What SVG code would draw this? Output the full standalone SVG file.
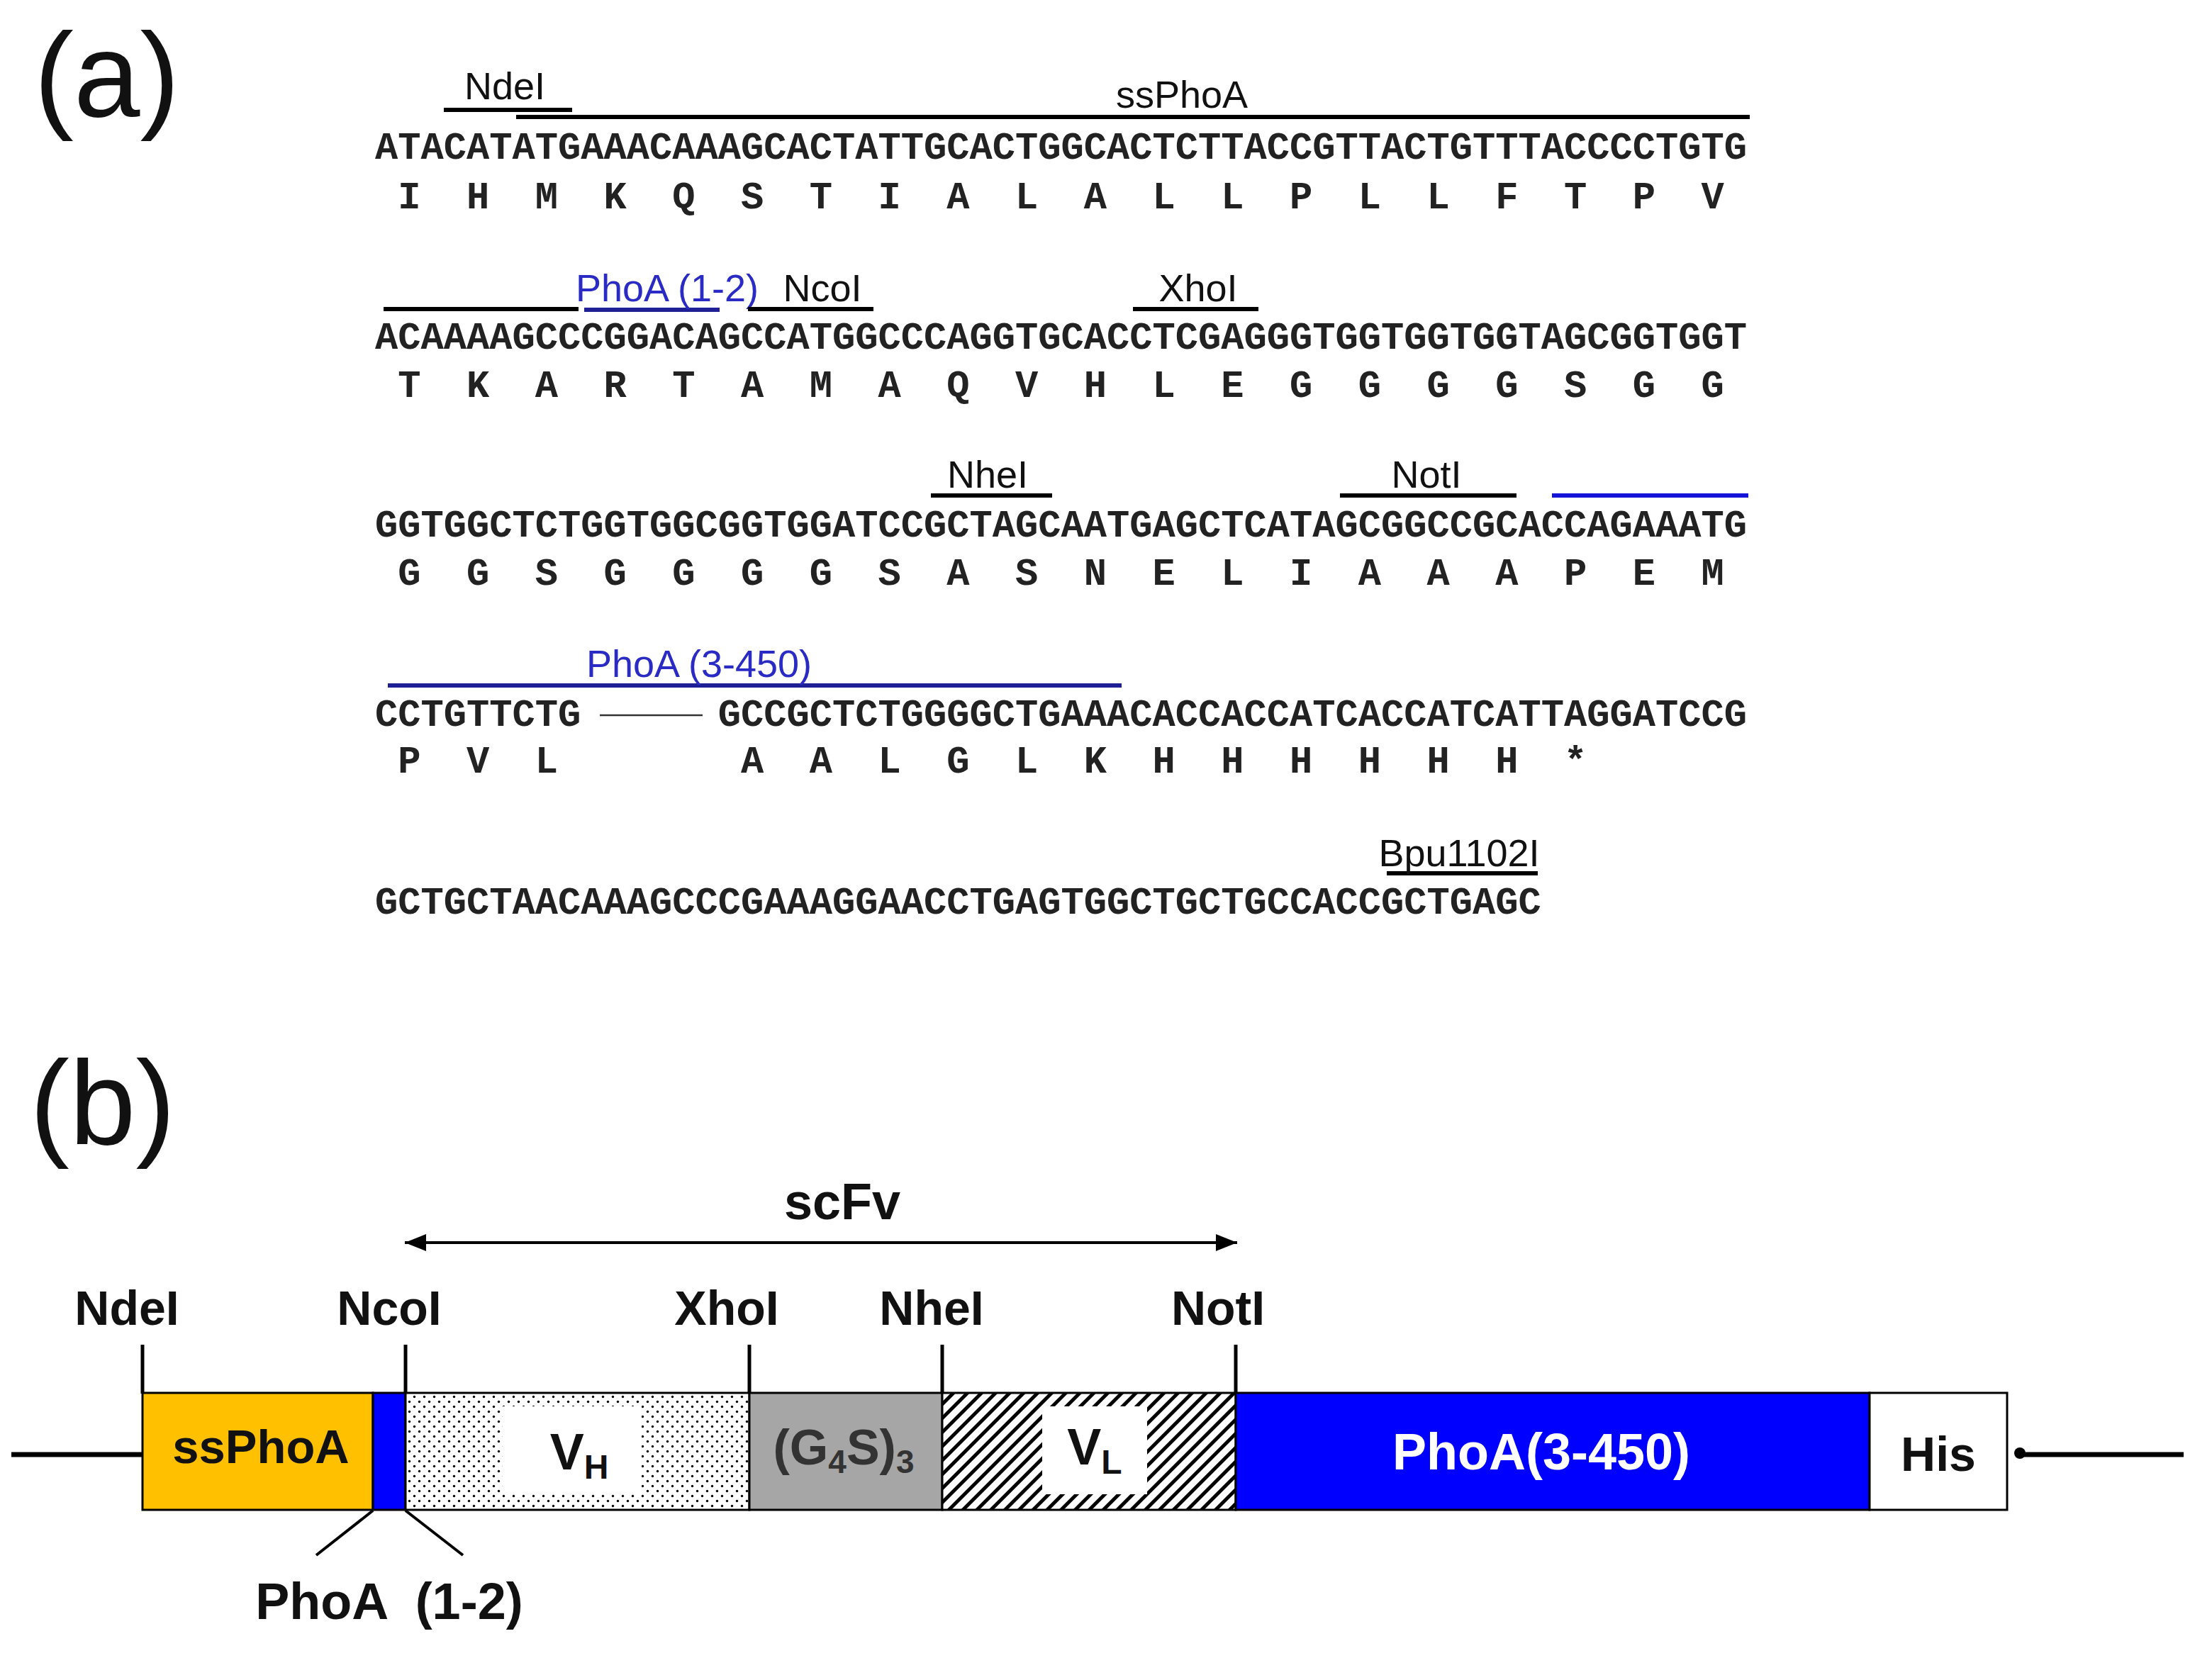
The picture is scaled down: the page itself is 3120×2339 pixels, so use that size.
<svg xmlns="http://www.w3.org/2000/svg" width="3120" height="2339" viewBox="0 0 3120 2339">
<style>
.seq{font-family:"Liberation Mono","Courier New",monospace;font-weight:bold;font-size:53.75px;fill:#222}
.aa{font-family:"Liberation Mono","Courier New",monospace;font-weight:bold;font-size:53.75px;fill:#222;text-anchor:middle}
.lab{font-family:"Liberation Sans",Arial,sans-serif;font-size:54px;fill:#111;text-anchor:middle}
.blue{fill:#2a2ac4}
.panel{font-family:"Liberation Sans",Arial,sans-serif;font-size:168px;fill:#111}
.b{font-family:"Liberation Sans",Arial,sans-serif;font-weight:bold;text-anchor:middle;fill:#111}
.bar{stroke:#000;stroke-width:6}
.nbar{stroke:#1f1f96;stroke-width:6}
.box{stroke:#000;stroke-width:3}
.tick{stroke:#000;stroke-width:5}
</style>
<defs>
<pattern id="dots" width="14" height="14" patternUnits="userSpaceOnUse">
<rect width="14" height="14" fill="#fff"/>
<circle cx="3.5" cy="3.5" r="1.7" fill="#000"/>
<circle cx="10.5" cy="10.5" r="1.7" fill="#000"/>
</pattern>
<pattern id="hatch" width="14" height="14" patternUnits="userSpaceOnUse" patternTransform="rotate(45)">
<rect width="14" height="14" fill="#fff"/>
<rect x="0" y="0" width="5" height="14" fill="#000"/>
</pattern>
<marker id="ah" markerWidth="30" markerHeight="26" refX="30" refY="13" orient="auto-start-reverse" markerUnits="userSpaceOnUse">
<path d="M0,1 L30,13 L0,25 Z" fill="#000"/>
</marker>
</defs>
<rect width="3120" height="2339" fill="#fff"/>

<!-- Panel (a) -->
<text class="panel" x="48" y="164">(a)</text>

<g id="row1">
<text class="seq" x="529" y="224" textLength="1935" lengthAdjust="spacingAndGlyphs">ATACATATGAAACAAAGCACTATTGCACTGGCACTCTTACCGTTACTGTTTACCCCTGTG</text>
<text class="aa" x="577.4 674.1 770.9 867.6 964.4 1061.1 1157.9 1254.6 1351.4 1448.1 1544.9 1641.6 1738.4 1835.1 1931.9 2028.6 2125.4 2222.1 2318.9 2415.6" y="294">IHMKQSTIALALLPLLFTPV</text>
</g>
<g id="row2">
<text class="seq" x="529" y="492" textLength="1935" lengthAdjust="spacingAndGlyphs">ACAAAAGCCCGGACAGCCATGGCCCAGGTGCACCTCGAGGGTGGTGGTGGTAGCGGTGGT</text>
<text class="aa" x="577.4 674.1 770.9 867.6 964.4 1061.1 1157.9 1254.6 1351.4 1448.1 1544.9 1641.6 1738.4 1835.1 1931.9 2028.6 2125.4 2222.1 2318.9 2415.6" y="560">TKARTAMAQVHLEGGGGSGG</text>
</g>
<g id="row3">
<text class="seq" x="529" y="757" textLength="1935" lengthAdjust="spacingAndGlyphs">GGTGGCTCTGGTGGCGGTGGATCCGCTAGCAATGAGCTCATAGCGGCCGCACCAGAAATG</text>
<text class="aa" x="577.4 674.1 770.9 867.6 964.4 1061.1 1157.9 1254.6 1351.4 1448.1 1544.9 1641.6 1738.4 1835.1 1931.9 2028.6 2125.4 2222.1 2318.9 2415.6" y="825">GGSGGGGSASNELIAAAPEM</text>
</g>
<g id="row4">
<text class="seq" x="529" y="1024" textLength="290.25" lengthAdjust="spacingAndGlyphs">CCTGTTCTG</text>
<line x1="846" y1="1009" x2="991" y2="1009" stroke="#333" stroke-width="2.5"/>
<text class="seq" x="1012.75" y="1024" textLength="1451.25" lengthAdjust="spacingAndGlyphs">GCCGCTCTGGGGCTGAAACACCACCATCACCATCATTAGGATCCG</text>
<text class="aa" x="577.4 674.1 770.9 1061.1 1157.9 1254.6 1351.4 1448.1 1544.9 1641.6 1738.4 1835.1 1931.9 2028.6 2125.4 2222.1" y="1090">PVLAALGLKHHHHHH*</text>
</g>
<g id="row5">
<text class="seq" x="529" y="1289" textLength="1644.75" lengthAdjust="spacingAndGlyphs">GCTGCTAACAAAGCCCGAAAGGAACCTGAGTGGCTGCTGCCACCGCTGAGC</text>
</g>

<g id="features-a">
<g id="f-ndei"><line class="bar" x1="626" y1="155" x2="807" y2="155"/><text class="lab" x="712" y="140">NdeI</text></g>
<g id="f-ssphoa"><line class="bar" x1="728" y1="165" x2="2468" y2="165"/><line class="bar" x1="541" y1="436" x2="816" y2="436"/><text class="lab" x="1667" y="152">ssPhoA</text></g>
<g id="f-phoa12"><line class="nbar" x1="824" y1="437" x2="1015" y2="437"/><text class="lab blue" x="941" y="425">PhoA (1-2)</text></g>
<g id="f-ncoi"><line class="bar" x1="1055" y1="436" x2="1232" y2="436"/><text class="lab" x="1160" y="425">NcoI</text></g>
<g id="f-xhoi"><line class="bar" x1="1598" y1="436" x2="1775" y2="436"/><text class="lab" x="1690" y="425">XhoI</text></g>
<g id="f-nhei"><line class="bar" x1="1313" y1="699" x2="1484" y2="699"/><text class="lab" x="1393" y="688">NheI</text></g>
<g id="f-noti"><line class="bar" x1="1890" y1="699" x2="2139" y2="699"/><text class="lab" x="2012" y="688">NotI</text></g>
<g id="f-phoa3450"><line x1="2189" y1="699" x2="2466" y2="699" stroke="#1414d8" stroke-width="6"/><line class="nbar" x1="547" y1="967" x2="1582" y2="967"/><text class="lab blue" x="986" y="955">PhoA (3-450)</text></g>
<g id="f-bpu"><line class="bar" x1="1956" y1="1232" x2="2169" y2="1232"/><text class="lab" x="2058" y="1222">Bpu1102I</text></g>
</g>

<!-- Panel (b) -->
<text class="panel" x="42" y="1614">(b)</text>

<g id="connectors">
<line x1="16" y1="2052" x2="201" y2="2052" stroke="#000" stroke-width="7"/>
<line x1="2849" y1="2052" x2="3080" y2="2052" stroke="#000" stroke-width="7"/>
<circle cx="2849" cy="2050" r="8" fill="#000"/>
<line x1="571" y1="1753" x2="1745" y2="1753" stroke="#000" stroke-width="4" marker-start="url(#ah)" marker-end="url(#ah)"/>
<line class="tick" x1="201" y1="1897" x2="201" y2="1966"/>
<line class="tick" x1="572" y1="1897" x2="572" y2="1966"/>
<line class="tick" x1="1057" y1="1897" x2="1057" y2="1966"/>
<line class="tick" x1="1329" y1="1897" x2="1329" y2="1966"/>
<line class="tick" x1="1743" y1="1897" x2="1743" y2="1966"/>
<line x1="526" y1="2131" x2="446" y2="2194" stroke="#000" stroke-width="4"/>
<line x1="572" y1="2131" x2="653" y2="2194" stroke="#000" stroke-width="4"/>
</g>

<g id="site-labels">
<text class="b" x="179" y="1869" font-size="68">NdeI</text>
<text class="b" x="549" y="1869" font-size="68">NcoI</text>
<text class="b" x="1025" y="1869" font-size="68">XhoI</text>
<text class="b" x="1314" y="1869" font-size="68">NheI</text>
<text class="b" x="1718" y="1869" font-size="68">NotI</text>
<text class="b" x="1188" y="1720" font-size="72">scFv</text>
<text class="b" x="549" y="2284" font-size="72" xml:space="preserve">PhoA  (1-2)</text>
</g>

<g id="n-ssphoa">
<rect class="box" x="201" y="1965" width="325" height="165" fill="#FFC000"/>
<text class="b" x="368" y="2064" font-size="67">ssPhoA</text>
</g>
<g id="n-phoa12">
<rect class="box" x="526" y="1965" width="46" height="165" fill="#0000FF"/>
</g>
<g id="n-vh">
<rect class="box" x="572" y="1965" width="485" height="165" fill="url(#dots)"/>
<rect x="709" y="1984" width="196" height="124" fill="#fff"/>
<text class="b" x="817" y="2073" font-size="72">V<tspan font-size="48" dy="13">H</tspan></text>
</g>
<g id="n-linker">
<rect class="box" x="1057" y="1965" width="272" height="165" fill="#A6A6A6"/>
<text class="b" x="1190" y="2066" font-size="70" style="fill:#333">(G<tspan font-size="46" dy="12">4</tspan><tspan dy="-12">S)</tspan><tspan font-size="46" dy="12">3</tspan></text>
</g>
<g id="n-vl">
<rect class="box" x="1329" y="1965" width="414" height="165" fill="url(#hatch)"/>
<rect x="1470" y="1984" width="148" height="124" fill="#fff"/>
<text class="b" x="1544" y="2066" font-size="72">V<tspan font-size="48" dy="13">L</tspan></text>
</g>
<g id="n-phoa3450">
<rect class="box" x="1743" y="1965" width="894" height="165" fill="#0000FF"/>
<text class="b" x="2174" y="2073" font-size="72" style="fill:#fff">PhoA(3-450)</text>
</g>
<g id="n-his">
<rect class="box" x="2637" y="1965" width="194" height="165" fill="#fff"/>
<text class="b" x="2734" y="2075" font-size="68">His</text>
</g>
</svg>
